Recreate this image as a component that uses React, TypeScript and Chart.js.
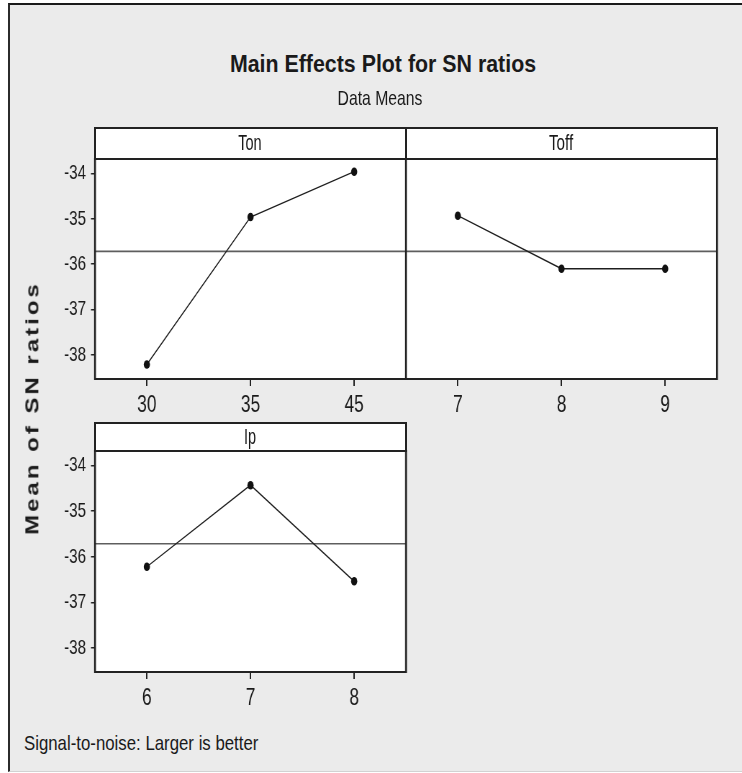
import React, { useEffect, useRef } from 'react';
import { Chart, registerables } from 'chart.js';

Chart.register(...registerables);

// ---- data ----
const tonLevels = ['30', '35', '45'];
const tonMeans = [-38.21, -34.96, -33.96];
const toffLevels = ['7', '8', '9'];
const toffMeans = [-34.93, -36.1, -36.1];
const ipLevels = ['6', '7', '8'];
const ipMeans = [-36.22, -34.43, -36.54];
const yTicks = [-38, -37, -36, -35, -34];
const yMin = -38.53;
const yMax = -33.68;
const allMeans = [...tonMeans, ...toffMeans, ...ipMeans];
const grandMean = allMeans.reduce((a, b) => a + b, 0) / allMeans.length;

// ---- style ----
const S = 0.72; // horizontal squeeze of the plot canvases
const FONT = "'Liberation Sans', Arial, sans-serif";
const INK = '#1a1a1a';

const framePlugin = {
  id: 'panelFrame',
  beforeDraw(chart: any) {
    const { ctx, chartArea: a } = chart;
    ctx.save();
    ctx.fillStyle = '#ffffff';
    ctx.fillRect(a.left, a.top, a.right - a.left, a.bottom - a.top);
    ctx.restore();
  },
  beforeDatasetsDraw(chart: any) {
    const { ctx, chartArea: a } = chart;
    const y = chart.scales.y.getPixelForValue(grandMean);
    ctx.save();
    ctx.strokeStyle = '#5e5e5e';
    ctx.lineWidth = 1.6;
    ctx.beginPath();
    ctx.moveTo(a.left, y);
    ctx.lineTo(a.right, y);
    ctx.stroke();
    ctx.restore();
  },
  afterDraw(chart: any) {
    const { ctx, chartArea: a } = chart;
    ctx.save();
    ctx.strokeStyle = '#222';
    ctx.lineWidth = 2;
    ctx.beginPath();
    ctx.moveTo(a.left, a.top);
    ctx.lineTo(a.right, a.top);
    ctx.moveTo(a.left, a.bottom);
    ctx.lineTo(a.right, a.bottom);
    ctx.stroke();
    ctx.lineWidth = 2.6;
    ctx.beginPath();
    ctx.moveTo(a.left, a.top - 1);
    ctx.lineTo(a.left, a.bottom + 1);
    ctx.moveTo(a.right, a.top - 1);
    ctx.lineTo(a.right, a.bottom + 1);
    ctx.stroke();
    ctx.restore();
  },
};

type PanelProps = {
  labels: string[];
  values: number[];
  showY: boolean;
  left: number;
  top: number;
  plotLeft: number;
  plotRight: number;
  plotTop: number;
  plotBottom: number;
};

const X_AXIS_H = 45;

function Panel(p: PanelProps) {
  const ref = useRef<HTMLCanvasElement | null>(null);
  const padTop = p.plotTop - p.top;
  const H = p.plotBottom - p.top + X_AXIS_H;
  const plotRightU = (p.plotRight - p.left) / S;
  const canvasW = Math.ceil(plotRightU + 5);
  const padRight = canvasW - plotRightU;
  const leftU = (p.plotLeft - p.left) / S;
  const yAxisW = p.showY ? leftU : 0;
  const padLeft = p.showY ? 0 : leftU;

  useEffect(() => {
    if (!ref.current) return;
    const chart = new Chart(ref.current, {
      type: 'line',
      data: {
        labels: p.labels,
        datasets: [
          {
            data: p.values,
            borderColor: '#1e1e1e',
            borderWidth: 1.4,
            pointRadius: 4.3,
            pointBackgroundColor: '#111',
            pointBorderColor: '#111',
            pointBorderWidth: 0,
            tension: 0,
            fill: false,
          },
        ],
      },
      options: {
        responsive: false,
        animation: false,
        layout: { padding: { top: padTop, left: padLeft, right: padRight, bottom: 0 } },
        plugins: {
          legend: { display: false },
          tooltip: { enabled: false },
          title: { display: false },
        },
        scales: {
          x: {
            type: 'category',
            offset: true,
            grid: {
              display: true,
              drawOnChartArea: false,
              drawTicks: true,
              tickLength: 7,
              color: '#222',
              lineWidth: 2,
            },
            border: { display: false },
            ticks: {
              color: INK,
              font: { family: FONT, size: 24 },
              padding: 4.5,
              maxRotation: 0,
              autoSkip: false,
            },
            afterFit: (s: any) => {
              s.height = X_AXIS_H;
            },
          },
          y: {
            display: p.showY,
            min: yMin,
            max: yMax,
            afterBuildTicks: (s: any) => {
              s.ticks = yTicks.map((v) => ({ value: v }));
            },
            grid: {
              drawOnChartArea: false,
              drawTicks: true,
              tickLength: 5.6,
              color: '#222',
              lineWidth: 1.5,
            },
            border: { display: false },
            ticks: {
              color: INK,
              font: { family: FONT, size: 21 },
              padding: 7,
              callback: (v: any) => String(v),
            },
            afterFit: (s: any) => {
              s.width = yAxisW;
            },
          },
        },
      } as any,
      plugins: [framePlugin],
    });
    return () => chart.destroy();
  }, []);

  return (
    <canvas
      ref={ref}
      width={canvasW}
      height={H}
      style={{
        position: 'absolute',
        left: p.left,
        top: p.top,
        width: canvasW,
        height: H,
        transform: `scaleX(${S})`,
        transformOrigin: '0 0',
      }}
    />
  );
}

type TxtProps = {
  cx: number;
  cy: number;
  size: number;
  bold?: boolean;
  sx?: number;
  anchor?: 'center' | 'left';
  children: React.ReactNode;
};

function Txt({ cx, cy, size, bold = false, sx = 1, anchor = 'center', children }: TxtProps) {
  const w = 1000;
  const left = anchor === 'center' ? cx - w / 2 : cx;
  return (
    <div
      style={{
        position: 'absolute',
        left,
        top: cy - 25,
        width: w,
        height: 50,
        lineHeight: '50px',
        textAlign: anchor,
        fontFamily: FONT,
        fontSize: size,
        fontWeight: bold ? 700 : 400,
        color: INK,
        whiteSpace: 'nowrap',
        transform: `scaleX(${sx})`,
        transformOrigin: anchor === 'center' ? '50% 50%' : '0 50%',
      }}
    >
      {children}
    </div>
  );
}

function Header({ left, top, right, bottom }: { left: number; top: number; right: number; bottom: number }) {
  return (
    <div
      style={{
        position: 'absolute',
        left: left - 1,
        top: top - 1,
        width: right - left + 2,
        height: bottom - top + 2,
        boxSizing: 'border-box',
        background: '#ffffff',
        border: '2px solid #222',
      }}
    />
  );
}

export default function App() {
  return (
    <div style={{ position: 'absolute', left: 0, top: 0, width: 742, height: 773, overflow: 'hidden', background: '#fff' }}>
      <div
        style={{
          position: 'absolute',
          left: 8,
          top: 3,
          width: 760,
          height: 769,
          boxSizing: 'border-box',
          background: '#ebebeb',
          borderLeft: '2px solid #2b2b2b',
          borderTop: '2px solid #1a1a1a',
          borderBottom: '1px solid #d2d2d2',
        }}
      />
      <Panel labels={tonLevels} values={tonMeans} showY={true} left={20} top={129} plotLeft={95} plotRight={406} plotTop={159} plotBottom={379} />
      <Panel labels={toffLevels} values={toffMeans} showY={false} left={400} top={129} plotLeft={406} plotRight={717} plotTop={159} plotBottom={379} />
      <Panel labels={ipLevels} values={ipMeans} showY={true} left={20} top={424} plotLeft={95} plotRight={406} plotTop={451} plotBottom={672} />

      <Header left={95} top={128} right={406} bottom={159} />
      <Header left={406} top={128} right={717} bottom={159} />
      <Header left={95} top={423} right={406} bottom={451} />

      <Txt cx={382.5} cy={63.5} size={24} bold sx={0.89}>Main Effects Plot for SN ratios</Txt>
      <Txt cx={379.5} cy={97.5} size={21} sx={0.75}>Data Means</Txt>
      <Txt cx={250} cy={143} size={22} sx={0.66}>Ton</Txt>
      <Txt cx={561} cy={143} size={22} sx={0.69}>Toff</Txt>
      <Txt cx={250} cy={437} size={22} sx={0.66}>Ip</Txt>
      <Txt cx={24} cy={742.5} size={21} sx={0.8} anchor="left">Signal-to-noise: Larger is better</Txt>

      <div style={{ position: 'absolute', left: 31.5, top: 407.5, width: 0, height: 0 }}>
        <div
          style={{
            position: 'absolute',
            left: 0,
            top: 0,
            fontFamily: FONT,
            fontSize: 24,
            fontWeight: 700,
            letterSpacing: '3px',
            color: INK,
            whiteSpace: 'nowrap',
            lineHeight: '28px',
            transformOrigin: '0 0',
            transform: 'scaleX(0.76) rotate(-90deg) translate(-50%, -50%)',
          }}
        >
          Mean of SN ratios
        </div>
      </div>
    </div>
  );
}
